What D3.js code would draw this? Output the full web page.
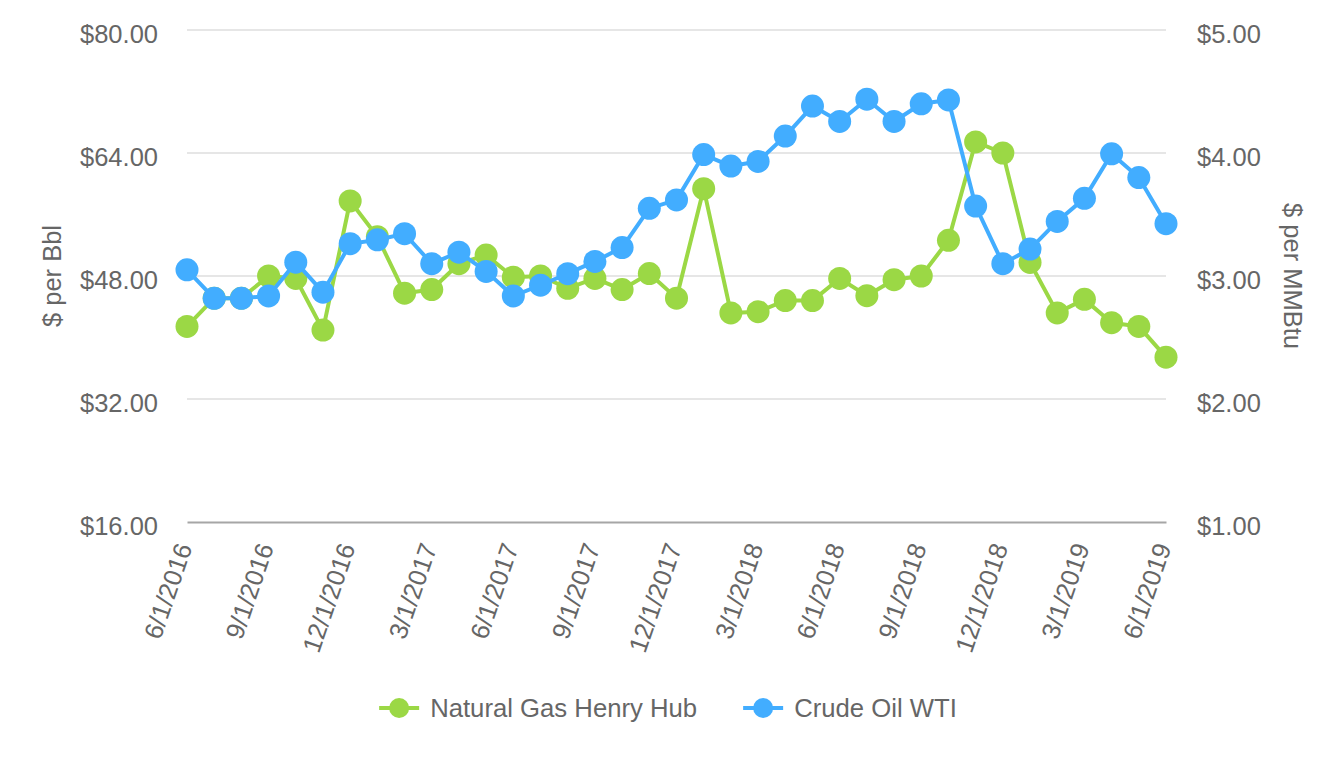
<!DOCTYPE html>
<html><head><meta charset="utf-8">
<script src="https://cdn.jsdelivr.net/npm/d3@7"></script>
<style>
body{margin:0;background:#fff;}
svg text{font-family:"Liberation Sans",Arial,Helvetica,sans-serif;fill:#666666;}
</style>
</head><body>
<svg id="chart" width="1340" height="760"></svg>
<script>
const categories = [
  "6/1/2016","7/1/2016","8/1/2016","9/1/2016","10/1/2016","11/1/2016","12/1/2016",
  "1/1/2017","2/1/2017","3/1/2017","4/1/2017","5/1/2017","6/1/2017","7/1/2017","8/1/2017",
  "9/1/2017","10/1/2017","11/1/2017","12/1/2017",
  "1/1/2018","2/1/2018","3/1/2018","4/1/2018","5/1/2018","6/1/2018","7/1/2018","8/1/2018",
  "9/1/2018","10/1/2018","11/1/2018","12/1/2018",
  "1/1/2019","2/1/2019","3/1/2019","4/1/2019","5/1/2019","6/1/2019"
];
// Natural Gas Henry Hub, $ per MMBtu (right axis)
const gasValues = [
  2.59, 2.82, 2.82, 3.00, 2.98, 2.56, 3.61,
  3.32, 2.86, 2.89, 3.10, 3.17, 2.99, 3.00, 2.90,
  2.98, 2.89, 3.02, 2.82,
  3.71, 2.70, 2.71, 2.80, 2.80, 2.98, 2.84, 2.97,
  3.00, 3.29, 4.09, 4.00,
  3.11, 2.70, 2.81, 2.62, 2.59, 2.34
];
// Crude Oil WTI, $ per Bbl (left axis)
const oilValues = [
  48.8, 45.1, 45.1, 45.4, 49.8, 45.9, 52.2,
  52.7, 53.5, 49.6, 51.1, 48.6, 45.4, 46.8, 48.3,
  49.9, 51.7, 56.8, 57.9,
  63.8, 62.3, 62.9, 66.2, 70.1, 68.1, 71.0, 68.1,
  70.4, 70.9, 57.1, 49.6,
  51.5, 55.1, 58.1, 63.9, 60.8, 54.8
];
const oilTicks = [16, 32, 48, 64, 80];
const gasTicks = [1, 2, 3, 4, 5];
const xTickLabels = categories.filter((d, i) => i % 3 === 0);
const seriesNames = ["Natural Gas Henry Hub", "Crude Oil WTI"];
const seriesColors = ["#9bd845", "#42adff"];

const svg = d3.select("#chart");
const plotLeft = 187, plotRight = 1166, plotTop = 30, plotBottom = 522;

const x = d3.scalePoint().domain(categories).range([plotLeft, plotRight]);
const yL = d3.scaleLinear().domain([16, 80]).range([plotBottom, plotTop]);
const yR = d3.scaleLinear().domain([1, 5]).range([plotBottom, plotTop]);

// gridlines
svg.append("g").selectAll("line").data(oilTicks.filter(t => t !== 16)).join("line")
  .attr("x1", plotLeft).attr("x2", plotRight)
  .attr("y1", d => yL(d)).attr("y2", d => yL(d))
  .attr("stroke", "#e6e6e6").attr("stroke-width", 2);

// left axis
const gL = svg.append("g").attr("transform", `translate(${plotLeft},0)`)
  .call(d3.axisLeft(yL).tickValues(oilTicks).tickSize(0).tickPadding(29)
    .tickFormat(d => "$" + d.toFixed(2)));
gL.select(".domain").remove();
gL.selectAll("text").attr("dy", "0.5em").style("font-size", "25.5px").attr("fill", "#666");

// right axis
const gR = svg.append("g").attr("transform", `translate(${plotRight},0)`)
  .call(d3.axisRight(yR).tickValues(gasTicks).tickSize(0).tickPadding(31)
    .tickFormat(d => "$" + d.toFixed(2)));
gR.select(".domain").remove();
gR.selectAll("text").attr("dy", "0.5em").style("font-size", "25.5px").attr("fill", "#666");

// x axis
const gX = svg.append("g").attr("transform", `translate(0,${plotBottom})`)
  .call(d3.axisBottom(x).tickValues(xTickLabels).tickSize(0));
gX.select(".domain").attr("stroke", "#a6a6a6").attr("stroke-width", 2);
gX.selectAll("text")
  .attr("x", 5).attr("y", 25).attr("dy", 0)
  .attr("text-anchor", "end")
  .attr("transform", "rotate(-71 5 25)")
  .style("font-size", "25.5px").attr("fill", "#666");

// axis titles
svg.append("text").attr("transform", `translate(52,${(plotTop + plotBottom) / 2}) rotate(-90)`)
  .attr("text-anchor", "middle").attr("dominant-baseline", "central")
  .style("font-size", "25.5px").text("$ per Bbl");
svg.append("text").attr("transform", `translate(1293,${(plotTop + plotBottom) / 2}) rotate(90)`)
  .attr("text-anchor", "middle").attr("dominant-baseline", "central")
  .style("font-size", "25.5px").text("$ per MMBtu");

// series
const series = [
  { name: seriesNames[0], color: seriesColors[0], values: gasValues, y: yR },
  { name: seriesNames[1], color: seriesColors[1], values: oilValues, y: yL }
];
series.forEach(s => {
  const g = svg.append("g");
  const line = d3.line().x((d, i) => x(categories[i])).y(d => s.y(d));
  g.append("path").datum(s.values).attr("d", line)
    .attr("fill", "none").attr("stroke", s.color).attr("stroke-width", 4)
    .attr("stroke-linejoin", "round");
  g.selectAll("circle").data(s.values).join("circle")
    .attr("cx", (d, i) => x(categories[i])).attr("cy", d => s.y(d))
    .attr("r", 11.5).attr("fill", s.color);
});

// legend
const legend = svg.append("g");
const ly = 708;
const items = legend.selectAll("g").data(series).join("g");
items.append("line").attr("x1", 0).attr("x2", 40).attr("y1", ly).attr("y2", ly)
  .attr("stroke", d => d.color).attr("stroke-width", 4);
items.append("circle").attr("cx", 20).attr("cy", ly).attr("r", 10).attr("fill", d => d.color);
items.append("text").attr("x", 51).attr("y", ly).attr("dy", "0.35em")
  .style("font-size", "25.7px").text(d => d.name);
let widths = [];
items.each(function () { widths.push(this.getBBox().width); });
const gap = 46;
const total = d3.sum(widths) + gap * (widths.length - 1);
let cx = 668 - total / 2;
items.attr("transform", (d, i) => {
  const t = `translate(${cx},0)`;
  cx += widths[i] + gap;
  return t;
});
</script>
</body></html>
